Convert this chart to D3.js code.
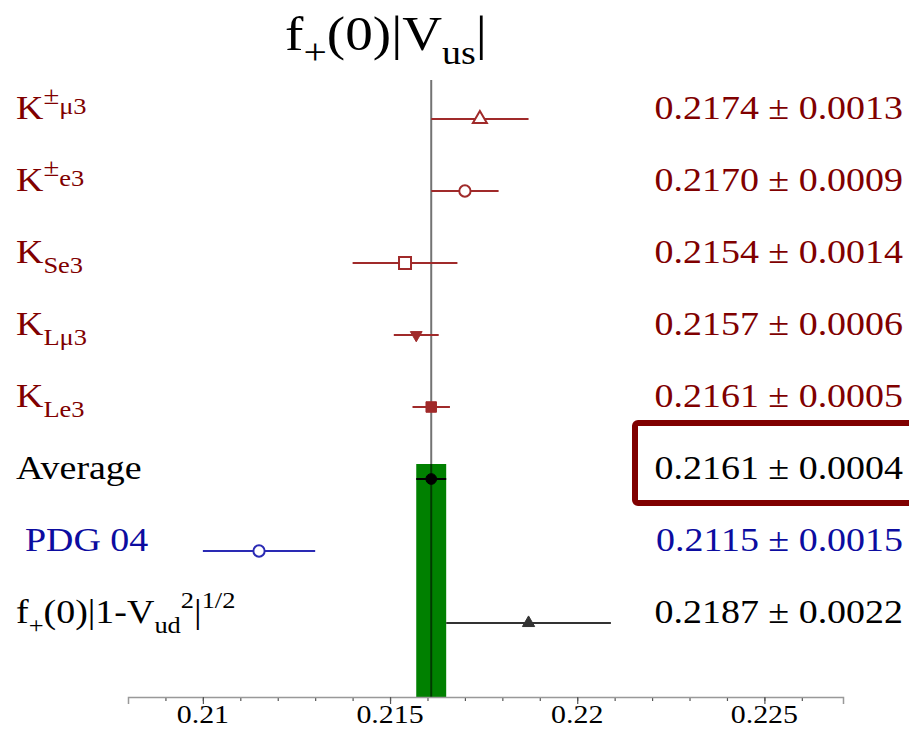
<!DOCTYPE html>
<html>
<head>
<meta charset="utf-8">
<script src="https://cdn.jsdelivr.net/npm/d3@7/dist/d3.min.js"></script>
<style>
  body { margin: 0; background: #fff; }
  svg { display: block; font-family: "Liberation Serif", "DejaVu Serif", serif; }
</style>
</head>
<body>
<div id="chart"></div>
<script>
// Measurements of f+(0)|Vus|, top to bottom
var labels = [
  [["K", ""], ["±", "sup"], ["μ3", "side"]],
  [["K", ""], ["±", "sup"], ["e3", "side"]],
  [["K", ""], ["Se3", "sub"]],
  [["K", ""], ["Lμ3", "sub"]],
  [["K", ""], ["Le3", "sub"]],
  [["Average", ""]],
  [["PDG 04", ""]],
  [["f", ""], ["+", "sub"], ["(0)|1-V", ""], ["ud", "sub"], ["2", "sup"], ["|", ""], ["1/2", "sup"]]
];
var values = [0.2174, 0.2170, 0.2154, 0.2157, 0.2161, 0.2161, 0.2115, 0.2187];
var errors = [0.0013, 0.0009, 0.0014, 0.0006, 0.0005, 0.0004, 0.0015, 0.0022];
var groups = ["kaon", "kaon", "kaon", "kaon", "kaon", "average", "pdg", "unitarity"];
var markers = ["triangle", "circle", "square", "triangle-down", "square", "circle", "circle", "triangle"];
var filled = [false, false, false, true, true, true, false, true];

var averageValue = 0.2161, averageError = 0.0004;
var xDomain = [0.208, 0.2271];
var majorTicks = [0.21, 0.215, 0.22, 0.225];
var minorTicks = d3.range(209, 227).map(function (d) { return d / 1000; });

var width = 909, height = 730;
var lineColor = { kaon: "#a02a2a", average: "#000", pdg: "#2a2ab4", unitarity: "#333" };
var textColor = { kaon: "#800000", average: "#000", pdg: "#0c0ca0", unitarity: "#000" };
var stretch = 1.15;

var svg = d3.select("#chart").append("svg")
  .attr("width", width)
  .attr("height", height);

var x = d3.scaleLinear().domain(xDomain).range([128, 843]);
var y = d3.scalePoint().domain(d3.range(values.length)).range([119, 623]);
var axisY = 697;

// Green band for the average
svg.append("rect")
  .attr("x", x(averageValue - averageError))
  .attr("y", 464)
  .attr("width", x(averageValue + averageError) - x(averageValue - averageError))
  .attr("height", axisY - 464)
  .attr("fill", "#008000");

// Vertical reference line at the average
svg.append("line")
  .attr("x1", x(averageValue)).attr("x2", x(averageValue))
  .attr("y1", 80).attr("y2", axisY)
  .attr("stroke", "#000")
  .attr("stroke-opacity", 0.55)
  .attr("stroke-width", 2);

// Axis: minor ticks then major ticks, labels drawn separately
var minorAxis = d3.axisBottom(x).tickValues(minorTicks).tickSize(4).tickFormat("");
var majorAxis = d3.axisBottom(x).tickValues(majorTicks).tickSize(7).tickFormat("");

var gMinor = svg.append("g").attr("transform", "translate(0," + axisY + ")").call(minorAxis);
var gMajor = svg.append("g").attr("transform", "translate(0," + axisY + ")").call(majorAxis);
[gMinor, gMajor].forEach(function (g) {
  g.select(".domain").attr("stroke", "#999").attr("stroke-width", 1.5);
  g.selectAll(".tick line").attr("stroke", "#555").attr("stroke-width", 1.2);
});
gMinor.select(".domain").remove();

svg.selectAll("text.tick-label")
  .data(majorTicks)
  .enter()
  .append("text")
  .attr("class", "tick-label")
  .attr("transform", function (d) { return "translate(" + x(d) + ",723) scale(" + stretch + ",1)"; })
  .attr("text-anchor", "middle")
  .attr("font-size", 26)
  .attr("fill", "#000")
  .text(function (d) { return String(+d.toFixed(3)); });

// Rows
var rows = svg.selectAll("g.row")
  .data(values.map(function (v, i) { return i; }))
  .enter()
  .append("g")
  .attr("class", "row");

rows.append("line")
  .attr("x1", function (i) { return x(values[i] - errors[i]); })
  .attr("x2", function (i) { return x(values[i] + errors[i]); })
  .attr("y1", function (i) { return y(i); })
  .attr("y2", function (i) { return y(i); })
  .attr("stroke", function (i) { return lineColor[groups[i]]; })
  .attr("stroke-width", 2);

var symbolSize = { "triangle": 85, "circle": 100, "square": 144, "triangle-down": 60 };
rows.append("path")
  .attr("d", function (i) {
    var m = markers[i];
    var type = m === "circle" ? d3.symbolCircle : m === "square" ? d3.symbolSquare : d3.symbolTriangle;
    var size = symbolSize[m];
    if (groups[i] === "average") size = 90;
    if (groups[i] === "unitarity") size = 65;
    if (i === 4) size = 110;
    return d3.symbol().type(type).size(size)();
  })
  .attr("transform", function (i) {
    return "translate(" + x(values[i]) + "," + y(i) + ")" + (markers[i] === "triangle-down" ? " rotate(180)" : "");
  })
  .attr("fill", function (i) { return filled[i] ? lineColor[groups[i]] : "#fff"; })
  .attr("stroke", function (i) { return lineColor[groups[i]]; })
  .attr("stroke-width", function (i) { return filled[i] ? 1 : 2; });

// Left labels with sub/superscripts
var shift = { "": 0, sup: -15, side: -5, sub: 10 };
rows.append("text")
  .attr("transform", function (i) {
    return "translate(" + (i === 6 ? 25 : 16) + "," + y(i) + ") scale(" + stretch + ",1)";
  })
  .attr("font-size", 33)
  .attr("fill", function (i) { return textColor[groups[i]]; })
  .each(function (i) {
    var t = d3.select(this), prev = 0;
    labels[i].forEach(function (p) {
      var off = shift[p[1]];
      t.append("tspan")
        .attr("dy", off - prev)
        .attr("font-size", p[1] === "" ? 33 : (p[1] === "sup" && p[0] === "±" ? 25 : 23))
        .text(p[0]);
      prev = off;
    });
  });

// Right value labels
var fmt = d3.format(".4f");
rows.append("text")
  .attr("transform", function (i) { return "translate(903," + y(i) + ") scale(" + stretch + ",1)"; })
  .attr("text-anchor", "end")
  .attr("font-size", 33)
  .attr("fill", function (i) { return textColor[groups[i]]; })
  .text(function (i) { return fmt(values[i]) + " ± " + fmt(errors[i]); });

// Highlight box around the average value
svg.append("rect")
  .attr("x", 635).attr("y", 423)
  .attr("width", 300).attr("height", 80)
  .attr("rx", 3)
  .attr("fill", "none")
  .attr("stroke", "#800000")
  .attr("stroke-width", 6);

// Title
var title = svg.append("text")
  .attr("transform", "translate(386,50) scale(" + stretch + ",1)")
  .attr("text-anchor", "middle")
  .attr("font-size", 48)
  .attr("fill", "#000");
var titleParts = [["f", 0, 48], ["+", 14, 36], ["(0)|V", 0, 48], ["us", 14, 33], ["|", 0, 48]];
var prevOff = 0;
titleParts.forEach(function (p) {
  title.append("tspan").attr("dy", p[1] - prevOff).attr("font-size", p[2]).text(p[0]);
  prevOff = p[1];
});
</script>
</body>
</html>
